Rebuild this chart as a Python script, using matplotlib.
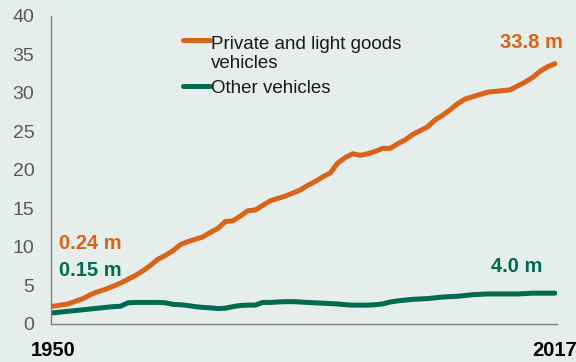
import matplotlib
matplotlib.use("Agg")
import matplotlib.pyplot as plt
import numpy as np

# --- data (millions of vehicles) ---
years = list(range(1950, 2018))
private_light = [
    2.3, 2.45, 2.6, 2.95, 3.3, 3.8, 4.2, 4.5, 4.9, 5.3,
    5.8, 6.3, 6.9, 7.6, 8.4, 8.9, 9.5, 10.3, 10.7, 11.0,
    11.3, 11.9, 12.4, 13.3, 13.4, 14.0, 14.7, 14.8, 15.4, 16.0,
    16.3, 16.6, 17.0, 17.4, 18.0, 18.5, 19.1, 19.6, 20.9, 21.6,
    22.1, 21.9, 22.1, 22.4, 22.8, 22.8, 23.4, 23.9, 24.6, 25.1,
    25.6, 26.5, 27.1, 27.8, 28.6, 29.2, 29.5, 29.8, 30.1, 30.2,
    30.3, 30.4, 30.9, 31.4, 32.0, 32.8, 33.4, 33.8,
]
other = [
    1.45, 1.55, 1.65, 1.75, 1.85, 1.95, 2.05, 2.15, 2.25, 2.3,
    2.75, 2.8, 2.8, 2.8, 2.8, 2.75, 2.55, 2.5, 2.4, 2.25,
    2.15, 2.1, 2.0, 2.05, 2.25, 2.4, 2.45, 2.45, 2.8, 2.8,
    2.85, 2.9, 2.9, 2.85, 2.8, 2.75, 2.7, 2.65, 2.6, 2.5,
    2.45, 2.45, 2.45, 2.5, 2.6, 2.85, 3.0, 3.1, 3.2, 3.25,
    3.3, 3.4, 3.5, 3.55, 3.6, 3.7, 3.8, 3.85, 3.9, 3.9,
    3.9, 3.9, 3.9, 3.95, 4.0, 4.0, 4.0, 4.0,
]
series_labels = ["Private and light goods\nvehicles", "Other vehicles"]
start_labels = ["0.24 m", "0.15 m"]
end_labels = ["33.8 m", "4.0 m"]
y_ticks = [0, 5, 10, 15, 20, 25, 30, 35, 40]
x_ticks = [1950, 2017]

ORANGE = "#da6219"
GREEN = "#006a50"
BG = "#e5eeea"

plt.rcParams['font.family'] = ['Liberation Sans', 'DejaVu Sans']

fig = plt.figure(figsize=(5.76, 3.62), dpi=100, facecolor=BG)
ax = fig.add_axes([0.0885, 0.105, 0.8785, 0.851])
ax.set_facecolor(BG)

colors = [ORANGE, GREEN]
for vals, c in zip([private_light, other], colors):
    ax.plot(years, vals, color=c, lw=3.6, solid_capstyle='round')

ax.set_xlim(1949.73, 2017.27)
ax.set_ylim(0, 40)
ax.set_yticks(y_ticks)
ax.set_xticks(x_ticks)
ax.set_xticklabels([str(x) for x in x_ticks], fontweight='bold', fontsize=14.5, color='black')
ax.tick_params(axis='y', length=0, labelsize=14, labelcolor='#595959', pad=12)
ax.tick_params(axis='x', length=0, pad=12)

for s in ['top', 'right']:
    ax.spines[s].set_visible(False)
for s in ['left', 'bottom']:
    ax.spines[s].set_color('#7f7f7f')
    ax.spines[s].set_linewidth(1.0)

# value labels at the ends of the lines
ax.text(1950.8, 10.5, start_labels[0], color=ORANGE, fontsize=14.5, fontweight='bold', va='center')
ax.text(1950.8, 6.9, start_labels[1], color=GREEN, fontsize=14.5, fontweight='bold', va='center')
ax.text(2018.0, 36.6, end_labels[0], color=ORANGE, fontsize=14.5, fontweight='bold', va='center', ha='right')
ax.text(2015.3, 7.4, end_labels[1], color=GREEN, fontsize=14.5, fontweight='bold', va='center', ha='right')

# legend drawn by hand so the key sits on the first text line
key_y = [0.922, 0.773]
text_y = [0.830, 0.749]  # baseline of the last line of each label
for lab, c, ky, ty in zip(series_labels, colors, key_y, text_y):
    ax.plot([0.261, 0.314], [ky, ky], color=c, lw=3.6, solid_capstyle='round',
            transform=ax.transAxes, clip_on=False)
    ax.text(0.316, ty, lab, transform=ax.transAxes, fontsize=13.5, color='#1a1a1a',
            va='baseline', ha='left', linespacing=1.2)

fig.savefig("out.png", dpi=100, facecolor=BG)
